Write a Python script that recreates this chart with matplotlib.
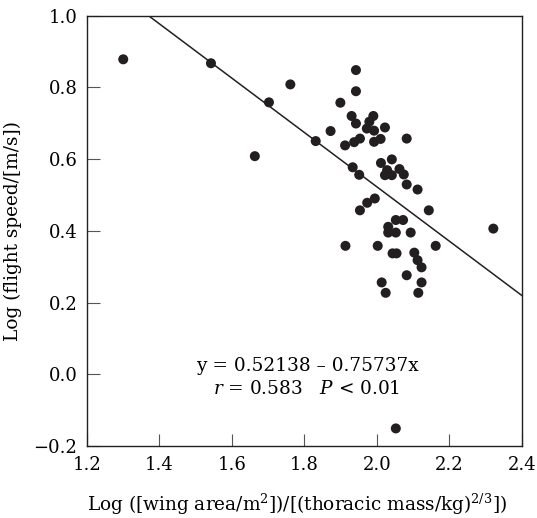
import matplotlib.pyplot as plt
import numpy as np

plt.rcParams['font.family'] = 'DejaVu Serif'
plt.rcParams['mathtext.fontset'] = 'dejavuserif'

# Data
wing_loading = [1.300, 1.542, 1.663, 1.702, 1.761, 1.831,
                1.942, 1.942, 1.899, 1.930, 1.942, 1.990, 1.979, 1.972, 1.992, 2.022,
                1.872, 1.912, 1.937, 1.953, 1.992, 2.010, 2.082,
                1.933, 1.951, 2.011, 2.041, 2.028, 2.022, 2.041, 2.062, 2.074,
                2.082, 2.112, 1.994, 1.973, 1.953, 2.143,
                2.052, 2.072, 2.031, 2.031, 2.052, 2.093,
                1.913, 2.002, 2.162, 2.043, 2.054, 2.103, 2.112, 2.123,
                2.082, 2.013, 2.123, 2.024, 2.114, 2.321, 2.052]
flight_speed = [0.878, 0.867, 0.608, 0.758, 0.808, 0.650,
                0.848, 0.789, 0.757, 0.720, 0.699, 0.720, 0.704, 0.685, 0.679, 0.688,
                0.678, 0.638, 0.647, 0.657, 0.648, 0.656, 0.657,
                0.577, 0.556, 0.589, 0.599, 0.569, 0.555, 0.555, 0.572, 0.557,
                0.529, 0.515, 0.490, 0.478, 0.457, 0.457,
                0.430, 0.430, 0.411, 0.395, 0.395, 0.395,
                0.358, 0.358, 0.358, 0.337, 0.337, 0.339, 0.318, 0.298,
                0.276, 0.256, 0.256, 0.227, 0.227, 0.406, -0.151]

# fitted line as drawn
line_intercept = 2.037
line_slope = -0.75737

fig = plt.figure(figsize=(5.37, 5.18), dpi=100)
ax = fig.add_axes([0.162, 0.139, 0.810, 0.831])

xs = np.array([1.2, 2.4])
ax.plot(xs, line_intercept + line_slope * xs, color='#231f20', linewidth=1.1, zorder=2)
ax.scatter(wing_loading, flight_speed, s=52, color='#231f20', edgecolors='none', zorder=3)

ax.set_xlim(1.2, 2.4)
ax.set_ylim(-0.2, 1.0)
ax.set_xticks(np.arange(1.2, 2.41, 0.2))
ax.set_yticks(np.arange(-0.2, 1.01, 0.2))
ax.set_xticklabels(['1.2', '1.4', '1.6', '1.8', '2.0', '2.2', '2.4'])
ax.set_yticklabels(['\u22120.2', '0.0', '0.2', '0.4', '0.6', '0.8', '1.0'])
ax.tick_params(direction='in', length=9, width=0.8, labelsize=13, pad=7,
               top=False, right=False, color='#555555')
for sp in ax.spines.values():
    sp.set_linewidth(1.0)
    sp.set_color('#231f20')

ax.set_xlabel('Log ([wing area/m$^2$])/[(thoracic mass/kg)$^{2/3}$])', fontsize=13.3, labelpad=13)
ax.xaxis.label.set_x(0.482)
ax.set_ylabel('Log (flight speed/[m/s])', fontsize=13.3, labelpad=8)

ax.text(1.807, 0.024, 'y = 0.52138 \u2013 0.75737x', fontsize=13.3, ha='center', va='center')
ax.text(1.807, -0.042, '$r$ = 0.583   $P$ < 0.01', fontsize=13.3, ha='center', va='center')

plt.savefig('out.png', dpi=100)
